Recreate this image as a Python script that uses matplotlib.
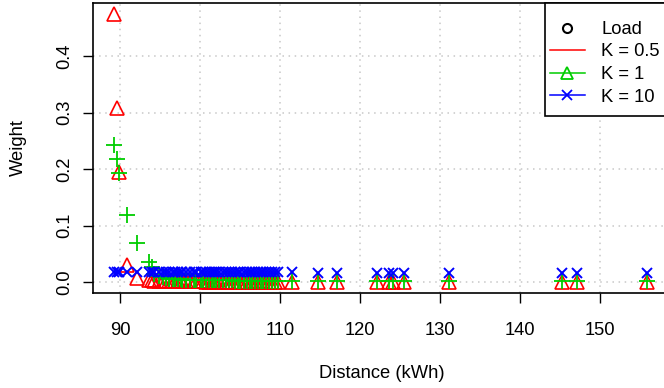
import matplotlib
matplotlib.use("Agg")
import matplotlib.pyplot as plt
from matplotlib.lines import Line2D
from matplotlib.patches import Rectangle

# ---- data ----
distance = [89.25, 89.6, 89.9, 90.9, 92.1, 93.6,
            94.0, 94.3, 94.9, 95.4, 95.8, 96.1, 96.6, 96.9, 97.3, 97.6,
            97.8, 98.3, 98.7, 99.2, 99.5, 100.1, 100.4, 100.7, 101.1, 101.5,
            101.8, 102.0, 102.4, 102.9, 103.3, 103.6, 104.0, 104.4, 104.7, 105.0,
            105.5, 105.9, 106.2, 106.5, 106.9, 107.3, 107.6, 107.9, 108.3, 108.6,
            109.0, 109.4, 109.7,
            111.5, 114.8, 117.1, 122.1, 123.6, 124.1, 125.5, 131.1, 145.3, 147.1, 155.9]

w_k05 = [0.475, 0.308, 0.195, 0.030, 0.007, 0.004,
         0.003, 0.002, 0.002, 0.002, 0.001, 0.001, 0.001, 0.001, 0.001, 0.001,
         0.001, 0.001, 0.001, 0.001, 0.001, 0.001, 0.001, 0.000, 0.000, 0.000,
         0.000, 0.000, 0.000, 0.000, 0.000, 0.000, 0.000, 0.000, 0.000, 0.000,
         0.000, 0.000, 0.000, 0.000, 0.000, 0.000, 0.000, 0.000, 0.000, 0.000,
         0.000, 0.000, 0.000,
         0.000, 0.000, 0.000, 0.000, 0.000, 0.000, 0.000, 0.000, 0.000, 0.000, 0.000]

w_k1 = [0.243, 0.218, 0.193, 0.119, 0.069, 0.036,
        0.027, 0.015, 0.010, 0.008, 0.007, 0.006, 0.006, 0.005, 0.005, 0.005,
        0.004, 0.004, 0.004, 0.004, 0.004, 0.003, 0.003, 0.003, 0.003, 0.003,
        0.003, 0.003, 0.003, 0.003, 0.003, 0.003, 0.003, 0.002, 0.002, 0.002,
        0.002, 0.002, 0.002, 0.002, 0.002, 0.002, 0.002, 0.002, 0.002, 0.002,
        0.002, 0.002, 0.002,
        0.002, 0.002, 0.002, 0.001, 0.001, 0.001, 0.001, 0.001, 0.001, 0.001, 0.001]

w_k10 = [0.018, 0.018, 0.018, 0.018, 0.018, 0.018,
         0.018, 0.018, 0.018, 0.018, 0.018, 0.017, 0.017, 0.017, 0.017, 0.017,
         0.017, 0.017, 0.017, 0.017, 0.017, 0.017, 0.017, 0.017, 0.017, 0.017,
         0.017, 0.017, 0.017, 0.017, 0.017, 0.017, 0.017, 0.017, 0.017, 0.017,
         0.017, 0.017, 0.017, 0.017, 0.017, 0.017, 0.017, 0.017, 0.017, 0.017,
         0.017, 0.017, 0.017,
         0.017, 0.016, 0.016, 0.016, 0.016, 0.016, 0.016, 0.016, 0.016, 0.016, 0.016]

x_ticks = [90, 100, 110, 120, 130, 140, 150]
y_ticks = [0.0, 0.1, 0.2, 0.3, 0.4]
y_tick_labels = ["0.0", "0.1", "0.2", "0.3", "0.4"]
legend_labels = ["Load", "K = 0.5", "K = 1", "K = 10"]

RED = "#FF0000"
GREEN = "#00CD00"
BLUE = "#0000FF"

plt.rcParams['font.family'] = ['Liberation Sans', 'DejaVu Sans']
FS = 13.2

fig = plt.figure(figsize=(6.64, 3.88), dpi=100)
W, H = 664, 388
left, right, top, bottom = 93, 670, 3, 293
ax = fig.add_axes([left / W, 1 - bottom / H, (right - left) / W, (bottom - top) / H])

ax.set_xlim(86.625, 158.75)
ax.set_ylim(-0.0195, 0.4947)

for xv in x_ticks:
    ax.axvline(xv, color="#C8C8C8", linestyle=(0, (1, 3)), linewidth=1.1, zorder=0)
for yv in y_ticks:
    ax.axhline(yv, color="#C8C8C8", linestyle=(0, (1, 3)), linewidth=1.1, zorder=0)

ax.plot(distance, w_k05, linestyle="none", marker="^", markersize=9.5,
        markerfacecolor="none", markeredgecolor=RED, markeredgewidth=1.2, zorder=2)
ax.plot(distance, w_k1, linestyle="none", marker="+", markersize=11,
        markeredgecolor=GREEN, markeredgewidth=1.3, zorder=3)
ax.plot(distance, w_k10, linestyle="none", marker="x", markersize=7.5,
        markeredgecolor=BLUE, markeredgewidth=1.4, zorder=4)

ax.set_xticks(x_ticks)
ax.set_xticklabels([str(v) for v in x_ticks])
ax.set_yticks(y_ticks)
ax.set_yticklabels(y_tick_labels, rotation=90, va="center")
ax.tick_params(axis="both", direction="out", length=6.9, width=1.0,
               labelsize=FS, colors="black")
ax.tick_params(axis="x", pad=14)
ax.tick_params(axis="y", pad=7.5)
for s in ax.spines.values():
    s.set_linewidth(1.2)
    s.set_color("black")

ax.set_xlabel("Distance (kWh)", fontsize=FS, labelpad=19)
ax.set_ylabel("Weight", fontsize=FS, labelpad=21)

# legend frame (clipped by the figure edge, as in the reference)
frame = Rectangle((545 / W, 1 - 116 / H), (700 - 545) / W, (116 - 3) / H,
                  transform=fig.transFigure, facecolor="white",
                  edgecolor="black", linewidth=1.2, zorder=5, clip_on=False)
ax.add_patch(frame)

handles = [
    Line2D([], [], linestyle="none", marker="o", markersize=6.5,
           markerfacecolor="none", markeredgecolor="black", markeredgewidth=1.5),
    Line2D([], [], color=RED, linewidth=1.1),
    Line2D([], [], color=GREEN, linewidth=1.1, marker="^", markersize=8,
           markerfacecolor="none", markeredgecolor=GREEN, markeredgewidth=1.3),
    Line2D([], [], color=BLUE, linewidth=1.1, marker="x", markersize=7,
           markeredgecolor=BLUE, markeredgewidth=1.3),
]
leg = ax.legend(handles, legend_labels, loc="upper left",
                bbox_to_anchor=(550 / W, 1 - 21 / H), bbox_transform=fig.transFigure,
                fontsize=FS, frameon=False, borderaxespad=0, borderpad=0,
                handlelength=1.9, handletextpad=0.9, labelspacing=0.3)
leg.set_zorder(6)

fig.savefig("out.png", dpi=100)
